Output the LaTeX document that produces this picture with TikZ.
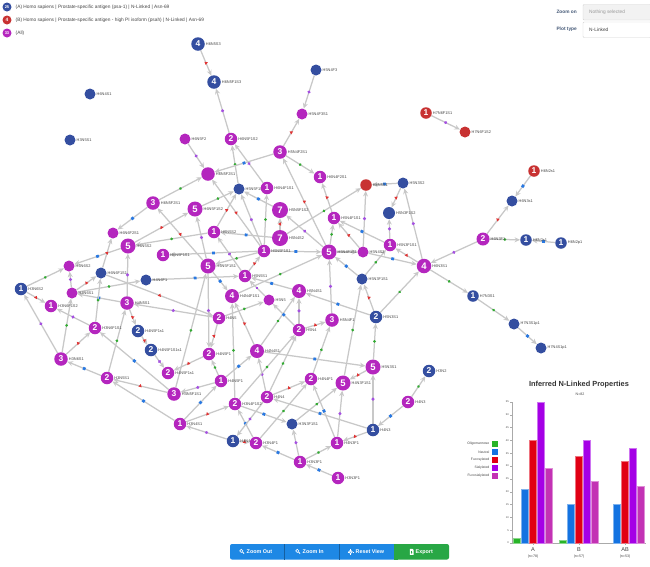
\documentclass[tikz,border=0pt]{standalone}
\usepackage{fontspec}
\setmainfont{Liberation Sans}
\usetikzlibrary{arrows.meta,shapes.geometric}
\pgfdeclarelayer{bg}
\pgfsetlayers{bg,main}
\definecolor{nblue}{RGB}{52,78,160}
\definecolor{nmag}{RGB}{180,38,190}
\definecolor{nred}{RGB}{200,50,50}
\definecolor{egray}{RGB}{200,200,200}
\definecolor{labgray}{RGB}{70,70,70}
\definecolor{lgreen}{RGB}{50,170,50}
\definecolor{lblue}{RGB}{40,120,225}
\definecolor{lred}{RGB}{225,50,50}
\definecolor{lpurp}{RGB}{165,80,225}
\definecolor{cgreen}{RGB}{40,180,40}
\definecolor{cblue}{RGB}{20,115,225}
\definecolor{cred}{RGB}{225,0,20}
\definecolor{cpurp}{RGB}{165,0,230}
\definecolor{cmag}{RGB}{195,50,180}
\definecolor{axgray}{RGB}{170,170,170}
\definecolor{btnblue}{RGB}{30,136,229}
\definecolor{btngreen}{RGB}{40,167,69}
\definecolor{ctrl}{RGB}{70,90,120}
\definecolor{boxline}{RGB}{210,210,210}
\definecolor{boxfill}{RGB}{242,242,242}
\tikzset{
  base/.style={circle,inner sep=0pt,text=white,font=\fontsize{8.5}{8.5}\selectfont\bfseries},
  big/.style={font=\fontsize{9.5}{9.5}\selectfont\bfseries},
  nb/.style={base,fill=nblue,minimum size=#1}, nb/.default=12.5pt,
  nm/.style={base,fill=nmag,minimum size=#1}, nm/.default=12.5pt,
  nr/.style={base,fill=nred,minimum size=#1}, nr/.default=12.5pt,
  lbl/.style={anchor=west,inner sep=0.8pt,font=\fontsize{3.9}{4.3}\selectfont,text=labgray},
  gedgestyle/.style={draw=egray,line width=1.25pt,-{Stealth[length=5.5pt,width=5pt]}},
  eg/.style={circle,fill=lgreen,inner sep=0pt,minimum size=3pt},
  eb/.style={rectangle,fill=lblue,inner sep=0pt,minimum size=2.8pt},
  er/.style={regular polygon,regular polygon sides=3,fill=lred,inner sep=0pt,minimum size=4pt},
  ep/.style={diamond,fill=lpurp,inner sep=0pt,minimum size=3.9pt},
  leg/.style={anchor=west,inner sep=0pt,font=\fontsize{4.8}{5}\selectfont,text=labgray},
  tick/.style={anchor=east,inner sep=0.5pt,font=\fontsize{2.6}{3}\selectfont,text=labgray},
  clab/.style={anchor=east,inner sep=0.5pt,font=\fontsize{3.4}{4}\selectfont,text=labgray},
  btxt/.style={anchor=west,inner sep=0pt,text=white,font=\fontsize{5.4}{6}\selectfont\bfseries},
}
\newcommand\gnode[5]{\node[#1] (#2) at (#3) {#4}; \node[lbl] (#2t) at (#2.east) {#5};}
\newcommand\gedge[3]{\draw[gedgestyle] (#1) -- node[sloped,#3] (m#1#2) {} (#2);}
\newcommand\gedgeN[2]{\draw[gedgestyle] (#1) -- (#2);}
\newcommand\cbar[3]{\fill[#2,draw=#2!55!white,line width=0.4pt] (#1,543) rectangle ({#1+7.3},{543-#3*2.5636});}
\begin{document}
\begin{tikzpicture}[x=1pt,y=-1pt]
\useasboundingbox (0,0) rectangle (650,566);
\begin{pgfonlayer}{bg}
\fill[white] (0,0) rectangle (650,566);
\end{pgfonlayer}

% ---------- legend top left
\node[nb=9pt,font=\fontsize{4}{4}\selectfont\bfseries] (lg1) at (7,7) {25};
\node[leg] (lg1t) at (15.5,7) {(A) Homo sapiens | Prostate-specific antigen (psa-1) | N-Linked | Asn-69};
\node[nr=9pt,font=\fontsize{4.8}{4.8}\selectfont\bfseries] (lg2) at (7,20) {4};
\node[leg] (lg2t) at (15.5,20) {(B) Homo sapiens | Prostate-specific antigen - high PI isoform (psah) | N-Linked | Asn-69};
\node[nm=9pt,font=\fontsize{4}{4}\selectfont\bfseries] (lg3) at (7,33) {33};
\node[leg] (lg3t) at (15.5,33) {(All)};

% ---------- controls top right
\node[anchor=east,inner sep=0pt,font=\fontsize{4.8}{5}\selectfont\bfseries,text=ctrl] (zo) at (577,12) {Zoom on};
\draw[boxline,fill=boxfill,rounded corners=1pt] (583,4.5) rectangle (651,20);
\node[anchor=west,inner sep=0pt,font=\fontsize{4.8}{5}\selectfont,text=black!40] (zot) at (589,12) {Nothing selected};
\node[anchor=east,inner sep=0pt,font=\fontsize{4.8}{5}\selectfont\bfseries,text=ctrl] (pt) at (577,29.5) {Plot type};
\draw[boxline,fill=white,rounded corners=1pt] (583,22) rectangle (651,37.5);
\node[anchor=west,inner sep=0pt,font=\fontsize{4.8}{5}\selectfont,text=black!75] (ptt) at (589,29.5) {N-Linked};

% ---------- nodes
\gnode{nb=13.5pt}{a1}{198,44}{4}{H6N5S3}
\gnode{nb=13.5pt}{a2}{214,82}{4}{H6N5F1S3}
\gnode{nb=11pt}{a3}{316,70}{}{H5N4F3}
\gnode{nb=11pt}{a4}{90,94}{}{H6N4S1}
\gnode{nb=11pt}{a5}{70,140}{}{H3N5S1}
\gnode{nm=11pt}{a6}{302,114}{}{H5N4F3S1}
\gnode{nm=11pt}{a7}{185,139}{}{H6N5F2}
\gnode{nm}{a8}{231,139}{2}{H6N5F1S2}
\gnode{nm=13.5pt}{a9}{208,174}{}{H6N5F2S1}
\gnode{nm=13.5pt}{a10}{280,152}{3}{H5N4F2S1}
\gnode{nm}{a11}{320,177}{1}{H6N4F2S1}
\gnode{nb=11pt}{a12}{239,189}{}{H5N5F1S1}
\gnode{nm}{a13}{267,188}{1}{H6N4F1S1}
\gnode{nm=13.5pt}{a14}{153,203}{3}{H6N5F2S1}
\gnode{nm=15pt,big}{a15}{195,209}{5}{H6N5F1S2}
\gnode{nm=16pt,big}{a16}{280,210}{7}{H5N5F1S2}
\gnode{nm}{a17}{214,232}{1}{H5N5S2}
\gnode{nm=16pt,big}{a18}{280,238}{7}{H5N4S2}
\gnode{nm}{a19}{163,255}{1}{H6N5F1S1}
\gnode{nm}{a20}{264,251}{1}{H5N5F1S1}
\gnode{nm=15pt,big}{a21}{208,266}{5}{H6N5F1S1}
\gnode{nm}{a22}{245,276}{1}{H5N5S1}
\gnode{nm=15pt,big}{a23}{128,246}{5}{H6N5S2}
\gnode{nm=11pt}{a24}{113,233}{}{H6N6F2S1}
\gnode{nm=11pt}{a25}{69,266}{}{H6N6S2}
\gnode{nb=11pt}{a26}{101,273}{}{H6N6F1S1}
\gnode{nb=11pt}{a27}{146,280}{}{H4N6F1}
\gnode{nb}{a28}{21,289}{1}{H3N6S2}
\gnode{nm=11pt}{a29}{72,293}{}{H4N6S1}
\gnode{nm}{a30}{51,306}{1}{H3N6F1S2}
\gnode{nm=13.5pt}{a31}{127,303}{3}{H4N5S1}
\gnode{nm}{a32}{95,328}{2}{H3N6F1S1}
\gnode{nb}{a33}{138,331}{2}{H4N5F1s1}
\gnode{nm=13.5pt}{a34}{61,359}{3}{H3N6S1}
\gnode{nm}{a35}{107,378}{2}{H3N5S1}
\gnode{nb}{a36}{151,350}{2}{H4N5F1S1s1}
\gnode{nm}{a37}{168,373}{2}{H4N5F1s1}
\gnode{nm=13.5pt}{a38}{174,394}{3}{H4N5F1S1}
\gnode{nm}{a39}{180,424}{1}{H3N4S1}
\gnode{nb}{a40}{233,441}{1}{H4N4}
\gnode{nm}{a41}{256,443}{2}{H3N4F1}
\gnode{nm}{a42}{235,404}{2}{H3N4F1S2}
\gnode{nm}{a43}{221,381}{1}{H4N5F1}
\gnode{nm}{a44}{209,354}{2}{H4N5F1}
\gnode{nm}{a45}{219,318}{2}{H4N5}
\gnode{nm=14pt}{a46}{232,296}{4}{H4N4F1S1}
\gnode{nm=11pt}{a47}{269,300}{}{H5N5}
\gnode{nm=14pt}{a48}{257,351}{4}{H4N4S1}
\gnode{nm}{a49}{267,397}{2}{H4N4}
\gnode{nm=14pt}{a50}{299,291}{4}{H5N4S1}
\gnode{nm}{a51}{299,330}{2}{H5N4}
\gnode{nm=13.5pt}{a52}{332,320}{3}{H5N4F1}
\gnode{nb}{a53}{376,317}{2}{H5N3S1}
\gnode{nb=11pt}{a54}{362,279}{}{H5N3F1S1}
\gnode{nm=15pt,big}{a55}{373,367}{5}{H5N3S1}
\gnode{nm=15pt,big}{a56}{343,383}{5}{H4N3F1S1}
\gnode{nm}{a57}{311,379}{2}{H4N4F1}
\gnode{nb=11pt}{a58}{292,424}{}{H3N3F1S1}
\gnode{nm}{a59}{337,443}{1}{H4N3F1}
\gnode{nb}{a60}{373,430}{1}{H4N3}
\gnode{nm}{a61}{300,462}{1}{H3N3F1}
\gnode{nm}{a62}{338,478}{1}{H3N3F1}
\gnode{nm}{a63}{408,402}{2}{H4N3}
\gnode{nb}{a64}{429,371}{2}{H3N2}
\gnode{nm=15pt,big}{a65}{329,252}{5}{H5N4F1S1}
\gnode{nm=11pt}{a66}{363,252}{}{H5N4S2}
\gnode{nm}{a67}{334,218}{1}{H5N4F1S1}
\gnode{nr=11.5pt}{a68}{366,185}{}{H6N5S1}
\gnode{nb=11pt}{a69}{403,183}{}{H5N3S2}
\gnode{nb=12pt}{a70}{389,213}{}{H5N3F1S2}
\gnode{nm}{a71}{390,245}{1}{H5N3F1S1}
\gnode{nm=14.5pt,big}{a72}{424,266}{4}{H6N3S1}
\gnode{nm=13pt}{a73}{483,239}{2}{H6N3F1}
\gnode{nb=11pt}{a74}{512,201}{}{H6N3s1}
\gnode{nr=11.5pt}{a75}{534,171}{1}{H6N2s1}
\gnode{nb=11.5pt}{a76}{526,240}{1}{H6N2s1}
\gnode{nb=11.5pt}{a77}{561,243}{1}{H6N2p1}
\gnode{nb=11.5pt}{a78}{473,296}{1}{H7N3S1}
\gnode{nb=11pt}{a79}{514,324}{}{H7N3S1p1}
\gnode{nb=11pt}{a80}{541,348}{}{H7N4S1p1}
\gnode{nr=11.5pt}{a81}{426,113}{1}{H7N6F1S1}
\gnode{nr=11pt}{a82}{465,132}{}{H7N6F1S2}

% ---------- edges
\begin{pgfonlayer}{bg}
\gedge{a14}{a24}{eb}
\gedge{a23}{a25}{eb}
\gedge{a26}{a24}{er}
\gedge{a31}{a23}{ep}
\gedge{a29}{a25}{ep}
\gedge{a28}{a25}{eg}
\gedge{a28}{a30}{er}
\gedge{a34}{a28}{ep}
\gedge{a34}{a29}{eg}
\gedge{a29}{a26}{er}
\gedge{a31}{a29}{eb}
\gedge{a29}{a27}{eg}
\gedge{a32}{a26}{eg}
\gedge{a32}{a30}{ep}
\gedge{a31}{a33}{er}
\gedge{a33}{a36}{er}
\gedge{a34}{a32}{er}
\gedge{a35}{a31}{eg}
\gedge{a35}{a34}{eb}
\gedge{a38}{a32}{eb}
\gedge{a38}{a35}{er}
\gedge{a39}{a35}{eb}
\gedge{a1}{a2}{er}
\gedge{a8}{a2}{ep}
\gedge{a7}{a9}{ep}
\gedge{a12}{a8}{eg}
\gedge{a13}{a8}{ep}
\gedge{a10}{a9}{eb}
\gedge{a14}{a9}{eg}
\gedge{a15}{a12}{eg}
\gedge{a17}{a12}{er}
\gedge{a20}{a9}{er}
\gedge{a16}{a12}{eb}
\gedge{a20}{a13}{eg}
\gedge{a18}{a16}{er}
\gedge{a20}{a12}{ep}
\gedge{a18}{a17}{eb}
\gedge{a23}{a15}{er}
\gedge{a21}{a14}{er}
\gedge{a17}{a23}{eg}
\gedge{a21}{a15}{ep}
\gedge{a20}{a19}{eb}
\gedge{a20}{a21}{eg}
\gedge{a22}{a17}{ep}
\gedge{a22}{a20}{er}
\gedge{a27}{a22}{eb}
\gedge{a10}{a6}{er}
\gedge{a3}{a6}{ep}
\gedge{a10}{a11}{eg}
\gedge{a65}{a10}{er}
\gedge{a67}{a11}{er}
\gedge{a69}{a68}{eb}
\gedge{a69}{a70}{er}
\gedge{a66}{a68}{ep}
\gedge{a18}{a68}{eg}
\gedge{a65}{a67}{eg}
\gedge{a66}{a67}{er}
\gedge{a71}{a67}{eb}
\gedge{a72}{a71}{er}
\gedge{a71}{a70}{ep}
\gedge{a72}{a69}{ep}
\gedge{a66}{a72}{eb}
\gedge{a54}{a65}{eb}
\gedge{a54}{a71}{eg}
\gedge{a65}{a16}{ep}
\gedge{a20}{a65}{eb}
\gedgeN{a65}{a66}
\gedge{a81}{a82}{ep}
\gedge{a75}{a74}{eb}
\gedge{a73}{a74}{er}
\gedge{a73}{a76}{eg}
\gedge{a77}{a76}{eb}
\gedge{a73}{a72}{ep}
\gedge{a72}{a78}{eg}
\gedge{a78}{a79}{eg}
\gedge{a79}{a80}{eb}
\gedge{a51}{a50}{ep}
\gedge{a51}{a52}{er}
\gedge{a52}{a65}{ep}
\gedge{a53}{a50}{eb}
\gedge{a53}{a54}{er}
\gedge{a55}{a53}{eg}
\gedge{a56}{a54}{eg}
\gedge{a55}{a56}{er}
\gedge{a60}{a55}{ep}
\gedge{a60}{a59}{er}
\gedge{a59}{a56}{ep}
\gedge{a59}{a57}{eb}
\gedge{a61}{a59}{eg}
\gedge{a61}{a58}{ep}
\gedge{a62}{a61}{eb}
\gedge{a58}{a56}{eg}
\gedge{a57}{a52}{eg}
\gedge{a63}{a60}{eb}
\gedge{a63}{a64}{eg}
\gedge{a60}{a49}{eb}
\gedge{a48}{a55}{eb}
\gedge{a53}{a72}{eg}
\gedge{a45}{a47}{eg}
\gedge{a48}{a46}{er}
\gedge{a42}{a46}{eg}
\gedge{a45}{a44}{er}
\gedge{a43}{a44}{eg}
\gedge{a44}{a37}{er}
\gedge{a36}{a37}{ep}
\gedge{a43}{a38}{ep}
\gedge{a40}{a39}{ep}
\gedge{a39}{a42}{er}
\gedge{a39}{a43}{eb}
\gedge{a41}{a42}{eb}
\gedge{a40}{a41}{er}
\gedge{a49}{a40}{ep}
\gedge{a49}{a48}{ep}
\gedge{a49}{a57}{er}
\gedge{a49}{a51}{eg}
\gedge{a48}{a50}{eg}
\gedge{a43}{a48}{eb}
\gedge{a21}{a44}{ep}
\gedge{a45}{a31}{ep}
\gedge{a26}{a45}{er}
\gedge{a38}{a21}{eg}
\gedge{a21}{a46}{eb}
\gedge{a50}{a22}{eb}
\gedge{a46}{a65}{eg}
\gedge{a51}{a47}{eb}
\gedge{a61}{a41}{eb}
\gedge{a41}{a57}{eg}
\gedge{a47}{a22}{ep}
\gedge{a42}{a51}{eg}
\gedge{a42}{a58}{eb}
\end{pgfonlayer}

% ---------- chart
\node[inner sep=0pt,font=\fontsize{7.4}{8}\selectfont\bfseries,text=black!80] (ctitle) at (579,385) {Inferred N-Linked Properties};
\node[inner sep=0pt,font=\fontsize{3.6}{4}\selectfont,text=labgray] (cn) at (580,394) {N=82};
\draw[axgray,line width=0.5pt] (512,402) -- (512,543) -- (646,543);
\foreach \v in {0,5,...,55} {
  \draw[axgray,line width=0.4pt] (510,{543-\v*2.5636}) -- (512,{543-\v*2.5636});
  \node[tick] (tk\v) at (509.5,{543-\v*2.5636}) {\v};
}
\cbar{513.3}{cgreen}{2}
\cbar{521.3}{cblue}{21}
\cbar{529.3}{cred}{40}
\cbar{537.3}{cpurp}{55}
\cbar{545.3}{cmag}{29}
\cbar{559.3}{cgreen}{1}
\cbar{567.3}{cblue}{15}
\cbar{575.3}{cred}{34}
\cbar{583.3}{cpurp}{40}
\cbar{591.3}{cmag}{24}
\cbar{613.3}{cblue}{15}
\cbar{621.3}{cred}{32}
\cbar{629.3}{cpurp}{37}
\cbar{637.3}{cmag}{22}
\foreach \x/\g/\n in {533/A/78,579/B/57,625/AB/53} {
  \draw[axgray,line width=0.4pt] (\x,543) -- (\x,545);
  \node[inner sep=0pt,font=\fontsize{5.6}{6}\selectfont,text=black!75] (gl\g) at (\x,549.5) {\g};
  \node[inner sep=0pt,font=\fontsize{3.6}{4}\selectfont,text=labgray] (gn\g) at (\x,556.5) {(n=\n)};
}
\foreach \yy/\c/\t in {444/cgreen/Oligomannose,452/cblue/Neutral,460/cred/Fucosylated,468/cpurp/Sialylated,476/cmag/Fucosialylated} {
  \fill[\c] (492,{\yy-3}) rectangle (498,{\yy+3});
  \node[clab] (cl\t) at (490,\yy) {\t};
}

% ---------- buttons
\fill[btnblue,rounded corners=2pt] (230,544) rectangle (398,559.5);
\fill[btngreen,rounded corners=2pt] (394,544) rectangle (449,559.5);
\fill[btngreen] (394,544) rectangle (398,559.5);
\draw[btnblue!70!black,line width=0.4pt] (284,544) -- (284,559.5);
\draw[btnblue!70!black,line width=0.4pt] (339,544) -- (339,559.5);
\draw[white,line width=0.6pt] (241.3,550.9) circle (1.6);
\draw[white,line width=0.9pt] (242.5,552.1) -- (244,553.6);
\node[btxt] (b1) at (246.5,551.8) {Zoom Out};
\draw[white,line width=0.6pt] (297.3,550.9) circle (1.6);
\draw[white,line width=0.9pt] (298.5,552.1) -- (300,553.6);
\node[btxt] (b2) at (302.5,551.8) {Zoom In};
\draw[white,line width=0.7pt] (350.5,551.8) circle (1.8);
\fill[white] (350.5,551.8) circle (0.6);
\draw[white,line width=0.6pt] (350.5,548.9) -- (350.5,549.7) (350.5,553.9) -- (350.5,554.7) (347.6,551.8) -- (348.4,551.8) (352.6,551.8) -- (353.4,551.8);
\node[btxt] (b3) at (355.5,551.8) {Reset View};
\fill[white] (409.8,548.8) -- (412.4,548.8) -- (413.6,550) -- (413.6,554.8) -- (409.8,554.8) -- cycle;
\draw[btngreen,line width=0.5pt,-{Stealth[length=1pt,width=1.6pt]}] (411.7,550.6) -- (411.7,553.6);
\node[btxt] (b4) at (415.5,551.8) {Export};
\end{tikzpicture}
\end{document}
